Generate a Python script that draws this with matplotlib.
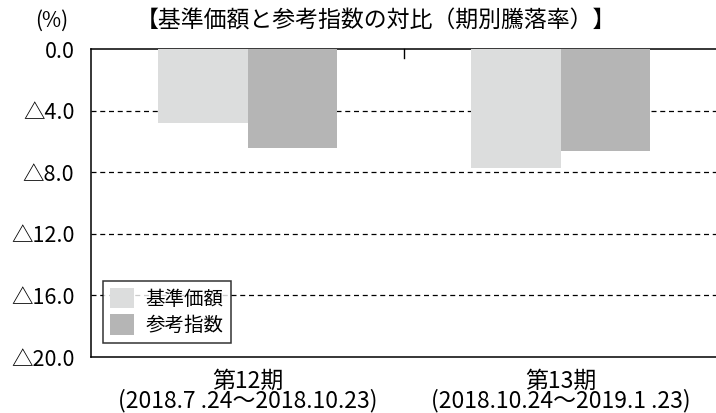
import matplotlib.pyplot as plt
import numpy as np

plt.rcParams['font.family'] = ['Noto Sans CJK JP', 'DejaVu Sans']

periods = ['第12期\n(2018.7 .24～2018.10.23)',
           '第13期\n(2018.10.24～2019.1 .23)']
series_names = ['基準価額', '参考指数']
kijun = [-4.8, -7.7]
sanko = [-6.4, -6.6]
yticks = [0, -4, -8, -12, -16, -20]
yticklabels = ['0.0', '△4.0', '△8.0', '△12.0', '△16.0', '△20.0']

fig = plt.figure(figsize=(7.16, 4.13), dpi=100)
ax = fig.add_axes([91 / 716, 1 - 357 / 413, 626 / 716, 308 / 413])

x = np.arange(len(periods))
w = 0.287
ax.bar(x - w / 2, kijun, w, color='#dcdddd', label=series_names[0], zorder=3)
ax.bar(x + w / 2, sanko, w, color='#b5b5b5', label=series_names[1], zorder=3)

ax.set_xlim(-0.5, 1.5)
ax.set_ylim(-20, 0)
ax.set_yticks(yticks)
ax.set_yticklabels(yticklabels, fontsize=15.5)
ax.set_xticks(x)
ax.set_xticklabels(periods, fontsize=16.5, linespacing=0.8)
ax.tick_params(axis='x', length=0, pad=9)
ax.tick_params(axis='y', length=0, pad=12)

for yv in yticks[1:-1]:
    ax.axhline(yv, color='black', lw=0.9, ls=(0, (4, 3)), zorder=1)

# divider tick between the two periods on the top spine
ax.plot([0.5, 0.5], [0, -0.6], color='black', lw=1, zorder=4, clip_on=False)

ax.spines['right'].set_visible(False)
for s in ['left', 'top', 'bottom']:
    ax.spines[s].set_linewidth(1.1)

leg = ax.legend(loc='lower left', bbox_to_anchor=(12 / 626, 14 / 308), fontsize=14,
                frameon=True, fancybox=False, edgecolor='black',
                handlelength=1.25, handleheight=1.25, handletextpad=0.6,
                borderpad=0.35, labelspacing=0.25, borderaxespad=0)
leg.get_frame().set_linewidth(1.1)

fig.text(52 / 716, 1 - 21 / 413, '(%)', fontsize=15, ha='center', va='center')
fig.text(376 / 716, 1 - 21 / 413, '【基準価額と参考指数の対比（期別騰落率）】',
         fontsize=16.5, ha='center', va='center')

fig.savefig('out.png', dpi=100)
